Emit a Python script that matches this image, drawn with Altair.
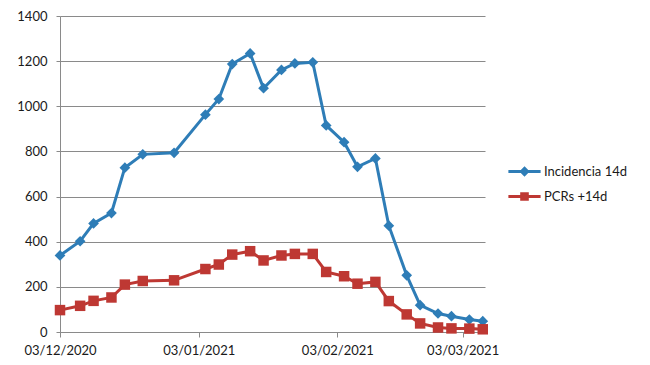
import altair as alt
import pandas as pd

# Dates and series values
dates = [
    "2020-12-03T00:00", "2020-12-07T12:00", "2020-12-10T12:00", "2020-12-14T12:00",
    "2020-12-17T12:00", "2020-12-21T12:00", "2020-12-28T12:00", "2021-01-04T12:00",
    "2021-01-07T12:00", "2021-01-10T12:00", "2021-01-14T12:00", "2021-01-17T12:00",
    "2021-01-21T12:00", "2021-01-24T12:00", "2021-01-28T12:00", "2021-01-31T12:00",
    "2021-02-04T12:00", "2021-02-07T12:00", "2021-02-11T12:00", "2021-02-14T12:00",
    "2021-02-18T12:00", "2021-02-21T12:00", "2021-02-25T12:00", "2021-02-28T12:00",
    "2021-03-04T12:00", "2021-03-07T12:00",
]
incidencia = [339, 402, 481, 527, 728, 787, 794, 963, 1032, 1187, 1234, 1080, 1161,
              1190, 1195, 915, 841, 732, 769, 471, 251, 119, 82, 70, 55, 48]
pcrs = [97, 116, 138, 153, 210, 226, 229, 279, 299, 343, 358, 317, 339,
        346, 346, 266, 247, 214, 222, 137, 78, 38, 20, 16, 15, 12]

series_names = ["Incidencia 14d", "PCRs +14d"]
colors = ["#2E7DB7", "#BE3833"]

df = pd.DataFrame({
    "fecha": dates * 2,
    "valor": incidencia + pcrs,
    "serie": [series_names[0]] * len(dates) + [series_names[1]] * len(dates),
})

font = "Lato"
grid_gray = "#8A8A8A"
text_color = "#1A1A1A"

x_enc = alt.X(
    "fecha:T",
    title=None,
    scale=alt.Scale(domain=[alt.DateTime(year=2020, month=12, date=3),
                            alt.DateTime(year=2021, month=3, date=8)]),
    axis=alt.Axis(
        values=[alt.DateTime(year=2020, month=12, date=3),
                alt.DateTime(year=2021, month=1, date=3),
                alt.DateTime(year=2021, month=2, date=3),
                alt.DateTime(year=2021, month=3, date=3)],
        format="%d/%m/%Y", grid=False, tickSize=5, labelPadding=7,
        domainColor=grid_gray, tickColor=grid_gray, labelFontSize=13,
        labelColor=text_color, labelFont=font, labelFlush=False,
    ),
)
y_enc = alt.Y(
    "valor:Q",
    title=None,
    scale=alt.Scale(domain=[0, 1400], nice=False),
    axis=alt.Axis(
        values=[0, 200, 400, 600, 800, 1000, 1200, 1400], format="d",
        grid=True, gridColor=grid_gray, gridWidth=1.2, tickSize=4, labelPadding=9,
        domainColor=grid_gray, tickColor=grid_gray, labelFontSize=13,
        labelColor=text_color, labelFont=font,
    ),
)

base = alt.Chart(df)

line_inc = base.transform_filter(alt.datum.serie == series_names[0]).mark_line(
    color=colors[0], strokeWidth=3).encode(x=x_enc, y=y_enc)
line_pcr = base.transform_filter(alt.datum.serie == series_names[1]).mark_line(
    color=colors[1], strokeWidth=3).encode(x=x_enc, y=y_enc)
pts_inc = base.transform_filter(alt.datum.serie == series_names[0]).mark_point(
    shape="diamond", filled=True, size=115, color=colors[0], opacity=1).encode(x=x_enc, y=y_enc)
pts_pcr = base.transform_filter(alt.datum.serie == series_names[1]).mark_point(
    shape="square", filled=True, size=110, color=colors[1], opacity=1).encode(x=x_enc, y=y_enc)

legend_paths = [
    "M-1.15,0H1.15M0,-0.22L0.22,0L0,0.22L-0.22,0Z",
    "M-1.15,0H1.15M-0.2,-0.2H0.2V0.2H-0.2Z",
]
leg = alt.Legend(
    title=None, orient="none", legendX=449, legendY=140,
    symbolSize=784, symbolStrokeWidth=3, rowPadding=0, labelOffset=4,
    labelFont=font, labelFontSize=13, labelColor=text_color,
)
legend_layer = base.transform_filter("false").mark_point(
    filled=True, opacity=1, strokeWidth=3).encode(
    x=x_enc, y=y_enc,
    fill=alt.Fill("serie:N", scale=alt.Scale(domain=series_names, range=colors), legend=leg),
    stroke=alt.Stroke("serie:N", scale=alt.Scale(domain=series_names, range=colors), legend=leg),
    shape=alt.Shape("serie:N", scale=alt.Scale(domain=series_names, range=legend_paths), legend=leg),
)

chart = alt.layer(line_inc, line_pcr, pts_inc, pts_pcr, legend_layer).properties(
    width=425, height=316,
    autosize=alt.AutoSizeParams(type="none"),
    padding={"left": 52, "top": 8, "right": 157, "bottom": 25},
    background="white",
).configure_view(stroke=None)

chart.save("out.html", embed_options={"renderer": "svg", "actions": False})
